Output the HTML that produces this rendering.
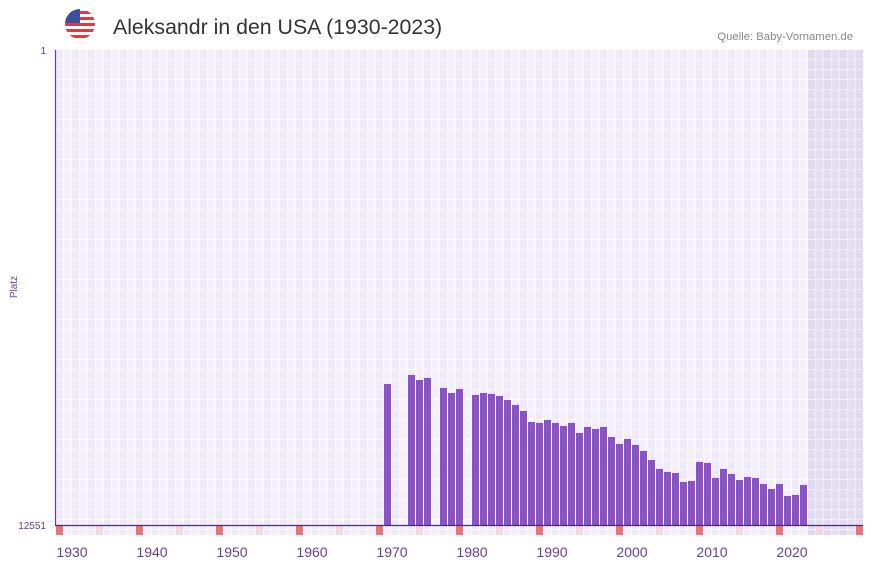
<!DOCTYPE html>
<html><head><meta charset="utf-8"><style>
body{margin:0;background:#fff;font-family:"Liberation Sans","DejaVu Sans",sans-serif;}
svg{display:block}
</style></head><body>
<svg width="873" height="567" xmlns="http://www.w3.org/2000/svg">
<defs>
<pattern id="grid" x="56" y="50" width="16" height="10" patternUnits="userSpaceOnUse">
<rect width="16" height="10" fill="#fff"/>
<rect x="0" y="0" width="7" height="9" fill="#efe9f9"/>
<rect x="8" y="0" width="7" height="9" fill="#f3effb"/>
</pattern>
<clipPath id="fc"><circle cx="80" cy="24" r="15"/></clipPath>
</defs>
<g clip-path="url(#fc)">
<rect x="65" y="9" width="30" height="30" fill="#fff"/>
<rect x="65" y="11" width="30" height="3" fill="#e03a3e"/>
<rect x="65" y="17" width="30" height="3" fill="#e03a3e"/>
<rect x="65" y="23" width="30" height="3" fill="#e03a3e"/>
<rect x="65" y="29" width="30" height="3" fill="#e03a3e"/>
<rect x="65" y="35" width="30" height="3" fill="#e03a3e"/>
<rect x="65" y="9" width="15" height="14" fill="#3c4f9a"/>
</g>
<text x="113" y="34" font-size="21.3" fill="#333">Aleksandr in den USA (1930-2023)</text>
<text x="853" y="40" font-size="11.3" fill="#888" text-anchor="end">Quelle: Baby-Vornamen.de</text>
<rect x="56" y="50" width="807" height="485" fill="url(#grid)"/>
<rect x="808" y="50" width="55" height="485" fill="#8c7aa8" opacity="0.13"/>
<g id="markers"></g>
<g id="bars"></g>
<line x1="55.5" y1="50" x2="55.5" y2="525" stroke="#6a3d9a" stroke-width="1.2"/>
<line x1="55" y1="525.5" x2="863" y2="525.5" stroke="#4b2a7a" stroke-width="1.2"/>
<text x="46" y="54" font-size="10" fill="#6a3d9a" text-anchor="end">1</text>
<text x="46" y="529" font-size="10" fill="#6a3d9a" text-anchor="end">12551</text>
<text x="17" y="287" font-size="10" fill="#6a3d9a" text-anchor="middle" transform="rotate(-90 17 287)">Platz</text>
<g id="xticks"></g>
</svg>
<script>
const years=[1970,1973,1974,1975,1977,1978,1979,1981,1982,1983,1984,1985,1986,1987,1988,1989,1990,1991,1992,1993,1994,1995,1996,1997,1998,1999,2000,2001,2002,2003,2004,2005,2006,2007,2008,2009,2010,2011,2012,2013,2014,2015,2016,2017,2018,2019,2020,2021,2022];
const ranks=[8825,8588,8720,8667,8931,9063,8957,9116,9063,9089,9142,9248,9380,9538,9829,9855,9776,9855,9935,9855,10119,9961,10014,9961,10225,10410,10278,10436,10595,10833,11070,11150,11176,11414,11387,10885,10912,11308,11070,11203,11361,11282,11308,11467,11599,11467,11784,11757,11493];
const tickYears=[1930,1940,1950,1960,1970,1980,1990,2000,2010,2020];
const rankMin=1, rankMax=12551;
const NS="http://www.w3.org/2000/svg";
function xTick(y){return 392+(y-1970)*8;}
function yPos(r){return 50+(r-rankMin)/(rankMax-rankMin)*475;}
const bars=document.getElementById('bars');
years.forEach((yr,i)=>{
 const r=document.createElementNS(NS,'rect');
 const top=yPos(ranks[i]);
 r.setAttribute('x',xTick(yr)-8);r.setAttribute('y',top);
 r.setAttribute('width',7);r.setAttribute('height',525-top);
 r.setAttribute('fill','#8a52c6');
 
 
 bars.appendChild(r);
});
const mk=document.getElementById('markers');
for(let y=1929;y<=2029;y+=5){
 const r=document.createElementNS(NS,'rect');
 r.setAttribute('x',xTick(y)-8);r.setAttribute('y',526);
 r.setAttribute('width',7);r.setAttribute('height',9);
 r.setAttribute('fill',((y-1929)%10===0)?'#e8747c':'#f5d5df');
 
 
 mk.appendChild(r);
}
const xt=document.getElementById('xticks');
tickYears.forEach(y=>{
 const t=document.createElementNS(NS,'text');
 t.setAttribute('x',xTick(y));t.setAttribute('y',557);
 t.setAttribute('font-size','14');t.setAttribute('fill','#6a3d9a');
 t.setAttribute('text-anchor','middle');
 t.textContent=y;
 
 
 xt.appendChild(t);
});
</script>
</body></html>
